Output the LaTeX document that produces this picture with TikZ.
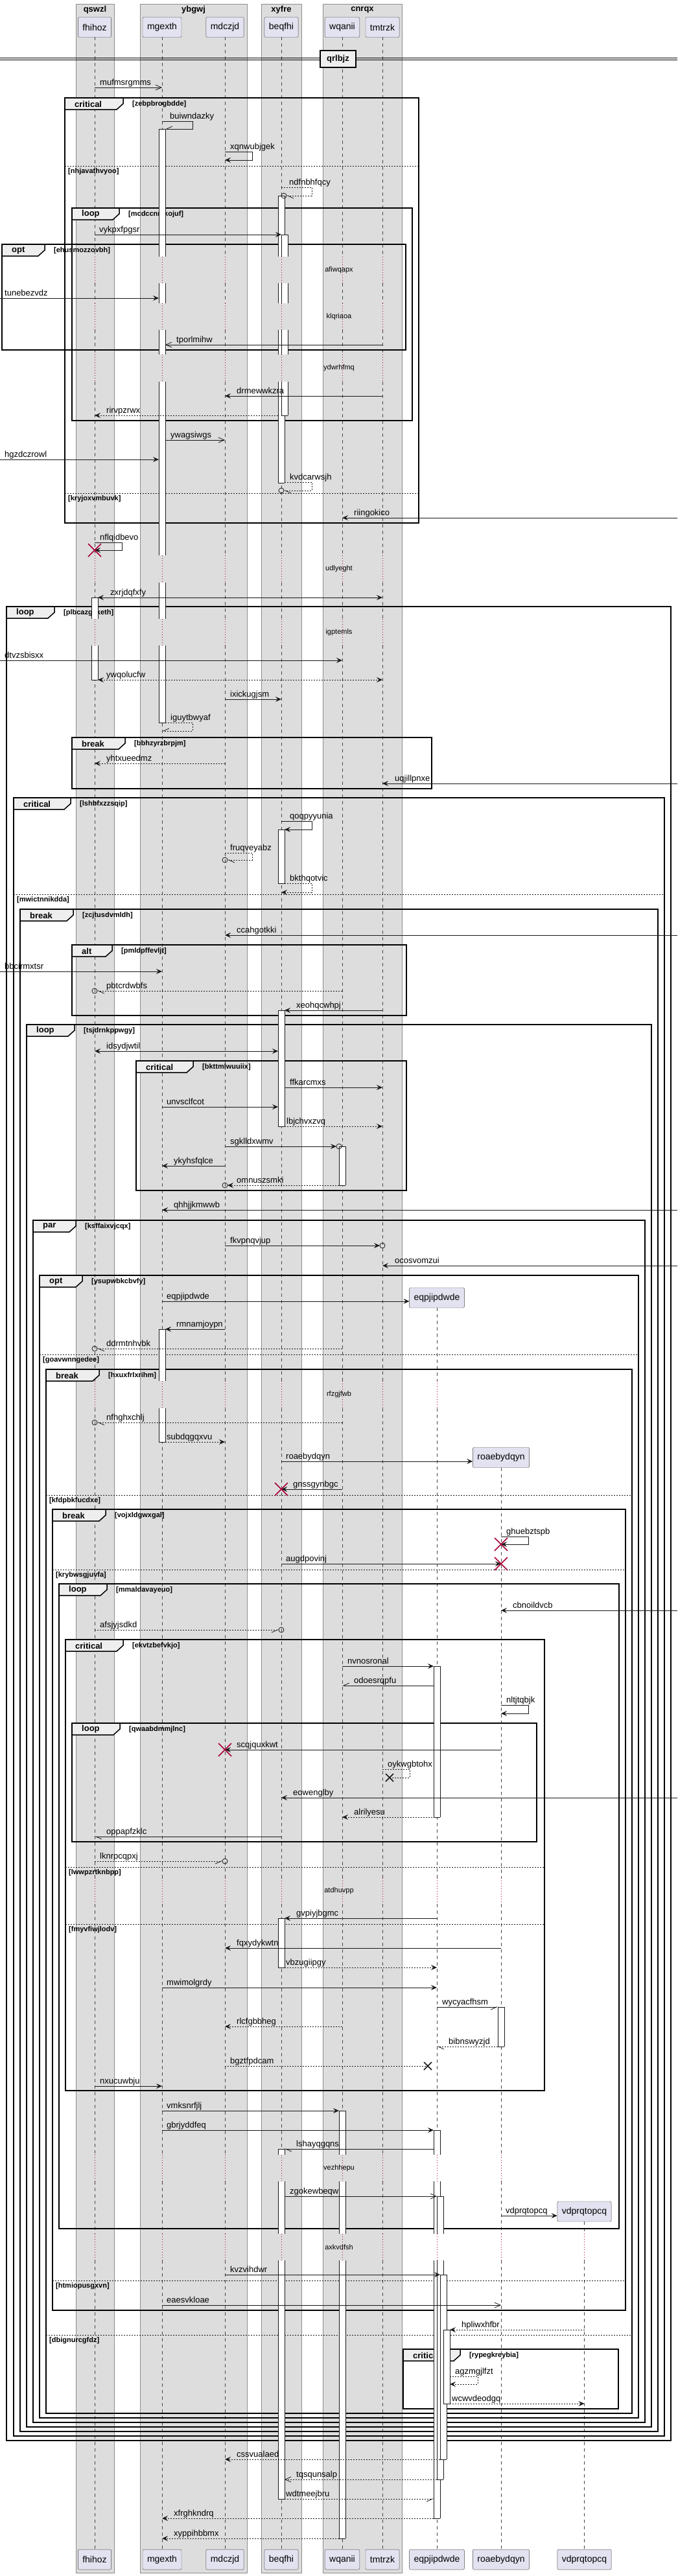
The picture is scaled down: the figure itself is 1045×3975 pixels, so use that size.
\documentclass[tikz,border=0pt]{standalone}
\usepackage{fontspec}
\setmainfont{Liberation Sans}
\usetikzlibrary{arrows.meta}
\definecolor{grpfill}{HTML}{DDDDDD}
\definecolor{partfill}{HTML}{E2E2F0}
\definecolor{tabfill}{HTML}{EEEEEE}
\definecolor{ink}{HTML}{181818}
\definecolor{dred}{HTML}{A80036}
\tikzset{
  grpbox/.style={draw=black!45, fill=grpfill, line width=0.5pt},
  grptitle/.style={inner sep=0pt, font=\bfseries\fontsize{13}{15}\selectfont},
  partbox/.style={draw=ink!80, fill=partfill, rounded corners=2pt, minimum height=31pt, inner xsep=7pt, inner ysep=0pt, font=\fontsize{14}{16}\selectfont},
  lifeline/.style={draw=ink!80, line width=0.5pt, dash pattern=on 5pt off 5pt},
  delayline/.style={draw=dred, line width=0.8pt, dash pattern=on 1pt off 3pt},
  dlbl/.style={inner sep=0pt, font=\fontsize{11}{13}\selectfont},
  framebox/.style={draw=black, line width=1.5pt},
  kindlbl/.style={anchor=west, inner sep=0pt, font=\bfseries\fontsize{13}{15}\selectfont},
  condlbl/.style={anchor=west, inner sep=0pt, font=\bfseries\fontsize{11}{13}\selectfont},
  elseline/.style={draw=ink, line width=0.8pt, dash pattern=on 2pt off 2pt},
  actbox/.style={draw=ink, line width=0.8pt},
  msg/.style={draw=ink, line width=0.8pt},
  ret/.style={dash pattern=on 2pt off 2pt},
  sync/.style={-{Stealth[length=9pt,width=8pt,inset=3.5pt]}},
  syncboth/.style={{Stealth[length=9pt,width=8pt,inset=3.5pt]}-{Stealth[length=9pt,width=8pt,inset=3.5pt]}},
  async/.style={-{Straight Barb[length=9pt,width=8pt]}},
  hl/.style={-{Straight Barb[harpoon,length=9pt,width=8pt]}},
  hr/.style={-{Straight Barb[harpoon,swap,length=9pt,width=8pt]}},
  lbl/.style={anchor=base west, yshift=4pt, inner sep=0pt, font=\fontsize{13}{15}\selectfont},
  sepbox/.style={draw=black, line width=1.5pt, fill=tabfill, minimum width=55pt, minimum height=26pt, inner sep=0pt, font=\bfseries\fontsize{13}{15}\selectfont}
}
\newcommand\mesg[6][]{\draw[msg,#1] (#2|-0,#4) -- (#3|-0,#4);
  \node[lbl] (m-#6) at (#5,#4) {#6};}
\newcommand\selfmsg[8][]{\draw[msg,#1] (#2|-0,#5) -- (#4,#5) -- (#4,#6) -- (#3|-0,#6);
  \node[lbl] (m-#8) at (#7,#5) {#8};}
\newcommand\ohead[2]{\draw[msg] (#1|-0,#2) circle[radius=4pt];}
\newcommand\destroy[2]{\draw[dred,line width=1.5pt] ([xshift=-10pt,yshift=-10pt]#1|-0,#2) -- ([xshift=10pt,yshift=10pt]#1|-0,#2) ([xshift=-10pt,yshift=10pt]#1|-0,#2) -- ([xshift=10pt,yshift=-10pt]#1|-0,#2);}
\newcommand\lost[3]{\draw[ink,line width=1.5pt] ([xshift=#2pt-6pt,yshift=-6pt]#1|-0,#3) -- ([xshift=#2pt+6pt,yshift=6pt]#1|-0,#3) ([xshift=#2pt-6pt,yshift=6pt]#1|-0,#3) -- ([xshift=#2pt+6pt,yshift=-6pt]#1|-0,#3);}
\newcommand\actbar[6]{\fill[white] ([xshift=#2pt]#1|-0,#3) rectangle ([xshift=#2pt+10pt]#1|-0,#4);
  \draw[actbox] ([xshift=#2pt]#1|-0,#3) -- ([xshift=#2pt]#1|-0,#4) ([xshift=#2pt+10pt]#1|-0,#3) -- ([xshift=#2pt+10pt]#1|-0,#4);
  \ifnum#5=1 \draw[actbox] ([xshift=#2pt]#1|-0,#3) -- ([xshift=#2pt+10pt]#1|-0,#3);\fi
  \ifnum#6=1 \draw[actbox] ([xshift=#2pt]#1|-0,#4) -- ([xshift=#2pt+10pt]#1|-0,#4);\fi}
\newcommand\frm[7]{\draw[framebox] (#1,#2) rectangle (#3,#4);
  \draw[framebox,fill=tabfill] (#1,#2) -- (#5,#2) -- (#5,#2+9) -- (#5-10,#2+18) -- (#1,#2+18) -- cycle;
  \node[kindlbl] (k-#7) at (#1+15,#2+9.5) {#6};
  \node[condlbl] (c-#7) at (#5+14,#2+9.5) {[#7]};}
\newcommand\els[4]{\draw[elseline] (#1,#3) -- (#2,#3);
  \node[condlbl] (e-#4) at (#1+5,#3+9) {[#4]};}
\newcommand\dly[4]{\foreach \p in {#4} {\draw[delayline] (\p|-0,#1) -- (\p|-0,#2);}
  \node[dlbl] (d-#3) at (523,{(#1+#2)/2}) {#3};}
\begin{document}
\begin{tikzpicture}[x=1pt,y=-1pt]
\useasboundingbox[fill=white] (0,0) rectangle (1045,3975);
\coordinate (lft) at (0,0);
\coordinate (rgt) at (1045,0);

\foreach \n/\a/\b in {qswzl/117/176,ybgwj/216/381,xyfre/403/465,cnrqx/498/620}{
  \draw[grpbox] (\a,6) rectangle (\b,3970);
  \node[grptitle] (\n) at ({(\a+\b)/2},15) {\n};
}
\foreach \n/\x in {fhihoz/146,mgexth/250,mdczjd/347,beqfhi/434,wqanii/528,tmtrzk/590}
  {\node[partbox] (\n) at (\x,42) {\n};}
\node[partbox] (eqpjipdwde) at (674,2002.5) {eqpjipdwde};
\node[partbox] (roaebydqyn) at (773,2249) {roaebydqyn};
\node[partbox] (vdprqtopcq) at (901.5,3412.5) {vdprqtopcq};
\foreach \n/\x in {fhihoz/146,mgexth/250,mdczjd/347,beqfhi/434,wqanii/528,tmtrzk/590,eqpjipdwde/674,roaebydqyn/773,vdprqtopcq/901.5}
  {\node[partbox] (\n-b) at (\x,3949.5) {\n};}

\foreach \p in {fhihoz,mgexth,mdczjd,beqfhi,wqanii,tmtrzk}
  {\foreach \a/\b in {57/396,437/468,509/547,589/857,899/955,996/2131,2173/2898,2938/3325,3366/3447,3488/3934}
    {\draw[lifeline] (\p|-0,\a) -- (\p|-0,\b);}}
\foreach \a/\b in {2018/2131,2173/2898,2938/3325,3366/3447,3488/3934}
  {\draw[lifeline] (eqpjipdwde|-0,\a) -- (eqpjipdwde|-0,\b);}
\foreach \a/\b in {2265/2898,2938/3325,3366/3447,3488/3934}
  {\draw[lifeline] (roaebydqyn|-0,\a) -- (roaebydqyn|-0,\b);}
\foreach \a/\b in {3428/3447,3488/3934}
  {\draw[lifeline] (vdprqtopcq|-0,\a) -- (vdprqtopcq|-0,\b);}

\dly{396}{437}{afiwqapx}{fhihoz,mgexth,mdczjd,beqfhi,wqanii,tmtrzk}
\dly{468}{509}{klqriaoa}{fhihoz,mgexth,mdczjd,beqfhi,wqanii,tmtrzk}
\dly{547}{589}{ydwrhfmq}{fhihoz,mgexth,mdczjd,beqfhi,wqanii,tmtrzk}
\dly{857}{899}{udlyeght}{fhihoz,mgexth,mdczjd,beqfhi,wqanii,tmtrzk}
\dly{955}{996}{igptemls}{fhihoz,mgexth,mdczjd,beqfhi,wqanii,tmtrzk}
\dly{2131}{2173}{rfzgjfwb}{fhihoz,mgexth,mdczjd,beqfhi,wqanii,tmtrzk,eqpjipdwde}
\dly{2898}{2938}{atdhuvpp}{fhihoz,mgexth,mdczjd,beqfhi,wqanii,tmtrzk,eqpjipdwde,roaebydqyn}
\dly{3325}{3366}{vezhhepu}{fhihoz,mgexth,mdczjd,beqfhi,wqanii,tmtrzk,eqpjipdwde,roaebydqyn}
\dly{3447}{3488}{axkvdfsh}{fhihoz,mgexth,mdczjd,beqfhi,wqanii,tmtrzk,eqpjipdwde,roaebydqyn,vdprqtopcq}

\draw[line width=0.8pt] (0,89.5) -- (1045,89.5) (0,92.5) -- (1045,92.5);
\node[sepbox] (qrlbjz) at (521.5,91) {qrlbjz};

\frm{100}{151}{646}{807}{190}{critical}{zebpbrogbdde}
\els{100}{646}{256}{nhjavathvyoo}
\els{100}{646}{761}{kryjoxvmbuvk}
\frm{111}{321}{636}{649}{184}{loop}{mcdccnmkojuf}
\frm{3}{377}{626}{540}{69}{opt}{ehusmozzovbh}
\frm{10}{936}{1035}{3766}{84}{loop}{plbcazgcketh}
\frm{111}{1138}{666}{1217}{193}{break}{bbhzyrzbrpjm}
\frm{21}{1231}{1025}{3759}{109}{critical}{lshbfxzzsqip}
\els{21}{1025}{1380}{mwictnnikdda}
\frm{31}{1403}{1015}{3752}{113}{break}{zcjtusdvmldh}
\frm{111}{1458}{627}{1567}{173}{alt}{pmldpffevljt}
\frm{41}{1581}{1005}{3745}{115}{loop}{tsjdrnkppwgy}
\frm{210}{1637}{627}{1837}{298}{critical}{bkttmlwuuiix}
\frm{51}{1883}{995}{3738}{117}{par}{ksffaixvjcqx}
\frm{61}{1968}{985}{3731}{127}{opt}{ysupwbkcbvfy}
\els{61}{985}{2090}{goavwnngedee}
\frm{71}{2113}{975}{3724}{153}{break}{hxuxfrlxrihm}
\els{71}{975}{2307}{kfdpbkfucdxe}
\els{71}{975}{3603}{dbignurcgfdz}
\frm{81}{2329}{965}{3565}{163}{break}{vojxldgwxgal}
\els{81}{965}{2422}{krybwsgjuvfa}
\els{81}{965}{3519}{htmiopusgxvn}
\frm{91}{2444}{955}{3439}{165}{loop}{mmaldavayeuo}
\frm{101}{2530}{840}{3226}{190}{critical}{ekvtzbefvkjo}
\els{101}{840}{2881}{lwwpzrtknbpp}
\els{101}{840}{2969}{fmyvfiwjlodv}
\frm{111}{2659}{828}{2842}{185}{loop}{qwaabdmmjlnc}
\frm{622}{3625}{954}{3717}{710}{critical}{rypegkreybia}

\foreach \a/\b/\t/\u in {199/396/1/0,437/468/0/0,509/547/0/0,589/857/0/0,899/955/0/0,996/1115/0/1,2051/2131/1/0,2173/2225/0/1}
  {\actbar{mgexth}{-5}{\a}{\b}{\t}{\u}}
\foreach \a/\b/\t/\u in {302/396/1/0,437/468/0/0,509/547/0/0,589/745/0/1,1280/1363/1/1,1559/1738/1/1,2960/3036/1/1,3316/3325/1/0,3366/3447/0/0,3488/3856/0/1}
  {\actbar{beqfhi}{-5}{\a}{\b}{\t}{\u}}
\foreach \a/\b/\t/\u in {362/396/1/0,437/468/0/0,509/547/0/0,589/641/0/1}
  {\actbar{beqfhi}{0}{\a}{\b}{\t}{\u}}
\foreach \a/\b/\t/\u in {922/955/1/0,996/1049/0/1}
  {\actbar{fhihoz}{-5}{\a}{\b}{\t}{\u}}
\foreach \a/\b/\t/\u in {1769/1829/1/1,3257/3325/1/0,3366/3447/0/0,3488/3917/0/1}
  {\actbar{wqanii}{-5}{\a}{\b}{\t}{\u}}
\foreach \a/\b/\t/\u in {2571/2804/1/1,3287/3325/1/0,3366/3447/0/0,3488/3886/0/1}
  {\actbar{eqpjipdwde}{-5}{\a}{\b}{\t}{\u}}
\foreach \a/\b/\t/\u in {3389/3447/1/0,3488/3826/0/1}
  {\actbar{eqpjipdwde}{0}{\a}{\b}{\t}{\u}}
\actbar{eqpjipdwde}{5}{3510}{3795}{1}{1}
\actbar{eqpjipdwde}{10}{3595}{3709}{1}{1}
\actbar{roaebydqyn}{-5}{3097}{3158}{1}{1}

\mesg[async]{fhihoz}{mgexth}{135}{154}{mufmsrgmms}
\selfmsg[hr]{mgexth}{[xshift=5pt]mgexth}{297}{187}{199}{262}{buiwndazky}
\selfmsg[sync]{mdczjd}{mdczjd}{389}{234}{247}{355}{xqnwubjgek}
\selfmsg[ret,hl]{beqfhi}{[xshift=8pt]beqfhi}{481}{289}{302}{446}{ndfnbhfqcy}
\ohead{[xshift=4pt]beqfhi}{302}
\mesg[sync]{fhihoz}{beqfhi}{362}{153}{vykpxfpgsr}
\mesg[sync]{lft}{[xshift=-5pt]mgexth}{460}{7}{tunebezvdz}
\mesg[async]{tmtrzk}{[xshift=5pt]mgexth}{532}{272}{tporlmihw}
\mesg[sync]{tmtrzk}{mdczjd}{611}{365}{drmewwkzra}
\mesg[ret,sync]{[xshift=-5pt]beqfhi}{fhihoz}{641}{164}{rirvpzrwx}
\mesg[async]{[xshift=5pt]mgexth}{mdczjd}{679}{263}{ywagsiwgs}
\mesg[sync]{lft}{[xshift=-5pt]mgexth}{709}{7}{hgzdczrowl}
\selfmsg[ret,hl]{[xshift=5pt]beqfhi}{[xshift=4pt]beqfhi}{481}{744}{757}{447}{kvdcarwsjh}
\ohead{beqfhi}{757}
\mesg[sync]{rgt}{wqanii}{799}{546}{riingokico}
\selfmsg[sync]{fhihoz}{fhihoz}{188}{837}{849}{154}{nflqidbevo}
\destroy{fhihoz}{849}
\mesg[syncboth]{[xshift=5pt]fhihoz}{tmtrzk}{922}{170}{zxrjdqfxfy}
\mesg[sync]{lft}{wqanii}{1019}{7}{dtvzsbisxx}
\mesg[ret,syncboth]{[xshift=5pt]fhihoz}{tmtrzk}{1049}{164}{ywqolucfw}
\mesg[sync]{mdczjd}{beqfhi}{1079}{355}{ixickugjsm}
\selfmsg[ret,hr]{[xshift=5pt]mgexth}{mgexth}{297}{1115}{1128}{263}{iguytbwyaf}
\mesg[ret,sync]{mdczjd}{fhihoz}{1178}{164}{yhtxueedmz}
\mesg[sync]{rgt}{tmtrzk}{1209}{609}{uqjillpnxe}
\selfmsg[sync]{beqfhi}{[xshift=5pt]beqfhi}{481}{1267}{1280}{447}{qoqpyyunia}
\selfmsg[ret,hl]{mdczjd}{[xshift=4pt]mdczjd}{389}{1316}{1327}{355}{fruqveyabz}
\ohead{mdczjd}{1327}
\selfmsg[ret,sync]{[xshift=5pt]beqfhi}{beqfhi}{481}{1363}{1377}{447}{bkthqotvic}
\mesg[sync]{rgt}{mdczjd}{1443}{365}{ccahgotkki}
\mesg[sync]{lft}{mgexth}{1499}{7}{bbcirmxtsr}
\mesg[ret,hl]{wqanii}{[xshift=4pt]fhihoz}{1529}{164}{pbtcrdwbfs}
\ohead{fhihoz}{1529}
\mesg[sync]{tmtrzk}{[xshift=5pt]beqfhi}{1559}{457}{xeohqcwhpj}
\mesg[syncboth]{fhihoz}{[xshift=-5pt]beqfhi}{1622}{164}{idsydjwtil}
\mesg[sync]{[xshift=5pt]beqfhi}{tmtrzk}{1678}{447}{ffkarcmxs}
\mesg[sync]{mgexth}{[xshift=-5pt]beqfhi}{1708}{257}{unvsclfcot}
\mesg[ret,sync]{[xshift=5pt]beqfhi}{tmtrzk}{1738}{442}{lbjchvxzvq}
\mesg[sync]{mdczjd}{[xshift=-9pt]wqanii}{1769}{355}{sgklldxwmv}
\ohead{[xshift=-5pt]wqanii}{1769}
\mesg[sync]{mdczjd}{mgexth}{1799}{268}{ykyhsfqlce}
\mesg[ret,sync]{[xshift=-5pt]wqanii}{[xshift=4pt]mdczjd}{1829}{365}{omnuszsmki}
\ohead{mdczjd}{1829}
\mesg[sync]{rgt}{mgexth}{1867}{268}{qhhjjkmwwb}
\mesg[sync]{mdczjd}{[xshift=-4pt]tmtrzk}{1922}{355}{fkvpnqvjup}
\ohead{tmtrzk}{1922}
\mesg[sync]{rgt}{tmtrzk}{1953}{609}{ocosvomzui}
\mesg[sync]{mgexth}{eqpjipdwde.west}{2008}{257}{eqpjipdwde}
\mesg[sync]{mdczjd}{[xshift=5pt]mgexth}{2051}{272}{rmnamjoypn}
\mesg[ret,hl]{wqanii}{[xshift=4pt]fhihoz}{2081}{164}{ddrmtnhvbk}
\ohead{fhihoz}{2081}
\mesg[ret,hl]{wqanii}{[xshift=4pt]fhihoz}{2195}{164}{nfhghxchlj}
\ohead{fhihoz}{2195}
\mesg[ret,sync]{[xshift=5pt]mgexth}{mdczjd}{2225}{257}{subdqgqxvu}
\mesg[sync]{beqfhi}{roaebydqyn.west}{2255}{441}{roaebydqyn}
\mesg[sync]{wqanii}{beqfhi}{2298}{452}{gnssgynbgc}
\destroy{beqfhi}{2298}
\selfmsg[sync]{roaebydqyn}{roaebydqyn}{815}{2371}{2383}{781}{ghuebztspb}
\destroy{roaebydqyn}{2383}
\mesg[sync]{beqfhi}{roaebydqyn}{2413}{441}{augdpovinj}
\destroy{roaebydqyn}{2413}
\mesg[sync]{rgt}{roaebydqyn}{2485}{791}{cbnoildvcb}
\mesg[ret,hr]{fhihoz}{[xshift=-4pt]beqfhi}{2515}{154}{afsjyjsdkd}
\ohead{beqfhi}{2515}
\mesg[sync]{wqanii}{[xshift=-5pt]eqpjipdwde}{2571}{536}{nvnosronal}
\mesg[hr]{[xshift=-5pt]eqpjipdwde}{wqanii}{2601}{546}{odoesrqpfu}
\selfmsg[sync]{roaebydqyn}{roaebydqyn}{815}{2631}{2644}{781}{nltjtqbjk}
\mesg[sync]{roaebydqyn}{mdczjd}{2700}{365}{scqjquxkwt}
\destroy{mdczjd}{2700}
\selfmsg[ret]{tmtrzk}{[xshift=11pt]tmtrzk}{632}{2730}{2743}{598}{oykwgbtohx}
\lost{tmtrzk}{11}{2743}
\mesg[sync]{rgt}{beqfhi}{2774}{452}{eowenglby}
\mesg[ret,sync]{[xshift=5pt]eqpjipdwde}{wqanii}{2804}{546}{alrilyesu}
\mesg[hl]{beqfhi}{fhihoz}{2834}{164}{oppapfzklc}
\mesg[ret,hr]{fhihoz}{[xshift=-4pt]mdczjd}{2872}{154}{lknrpcqpxj}
\ohead{mdczjd}{2872}
\mesg[sync]{eqpjipdwde}{[xshift=5pt]beqfhi}{2960}{457}{gvpiyjbgmc}
\mesg[sync]{roaebydqyn}{mdczjd}{3006}{365}{fqxydykwtn}
\mesg[ret,sync]{[xshift=5pt]beqfhi}{eqpjipdwde}{3036}{441}{vbzugiipgy}
\mesg[sync]{mgexth}{eqpjipdwde}{3067}{257}{mwimolgrdy}
\mesg[hr]{eqpjipdwde}{[xshift=-5pt]roaebydqyn}{3097}{682}{wycyacfhsm}
\mesg[ret,sync]{wqanii}{mdczjd}{3127}{365}{rlcfgbbheg}
\mesg[ret,hl]{[xshift=-5pt]roaebydqyn}{eqpjipdwde}{3158}{692}{bibnswyzjd}
\mesg[ret]{mdczjd}{[xshift=-14pt]eqpjipdwde}{3188}{355}{bgztfpdcam}
\lost{eqpjipdwde}{-14}{3188}
\mesg[sync]{fhihoz}{mgexth}{3219}{154}{nxucuwbju}
\mesg[sync]{mgexth}{[xshift=-5pt]wqanii}{3257}{257}{vmksnrfjlj}
\mesg[sync]{mgexth}{[xshift=-5pt]eqpjipdwde}{3287}{257}{gbrjyddfeq}
\mesg[hl]{[xshift=-5pt]eqpjipdwde}{[xshift=5pt]beqfhi}{3316}{457}{lshayqgqns}
\mesg[async]{[xshift=5pt]beqfhi}{eqpjipdwde}{3389}{447}{zgokewbeqw}
\mesg[sync]{roaebydqyn}{vdprqtopcq.west}{3419}{780}{vdprqtopcq}
\mesg[sync]{mdczjd}{[xshift=5pt]eqpjipdwde}{3510}{355}{kvzvihdwr}
\mesg[async]{mgexth}{roaebydqyn}{3557}{257}{eaesvkloae}
\mesg[ret,sync]{vdprqtopcq}{[xshift=20pt]eqpjipdwde}{3595}{712}{hpliwxhfbr}
\selfmsg[ret,sync]{[xshift=20pt]eqpjipdwde}{[xshift=20pt]eqpjipdwde}{737}{3667}{3679}{702}{agzmgjlfzt}
\mesg[ret,sync]{[xshift=20pt]eqpjipdwde}{vdprqtopcq}{3709}{697}{wcwvdeodgq}
\mesg[ret,sync]{[xshift=5pt]eqpjipdwde}{mdczjd}{3795}{365}{cssvualaed}
\mesg[ret,async]{eqpjipdwde}{[xshift=5pt]beqfhi}{3826}{457}{tqsqunsalp}
\mesg[ret,hr]{[xshift=5pt]beqfhi}{[xshift=-5pt]eqpjipdwde}{3856}{441}{wdtmeejbru}
\mesg[ret,sync]{[xshift=-5pt]eqpjipdwde}{mgexth}{3886}{268}{xfrghkndrq}
\mesg[ret,sync]{[xshift=-5pt]wqanii}{mgexth}{3917}{268}{xyppihbbmx}
\end{tikzpicture}
\end{document}
